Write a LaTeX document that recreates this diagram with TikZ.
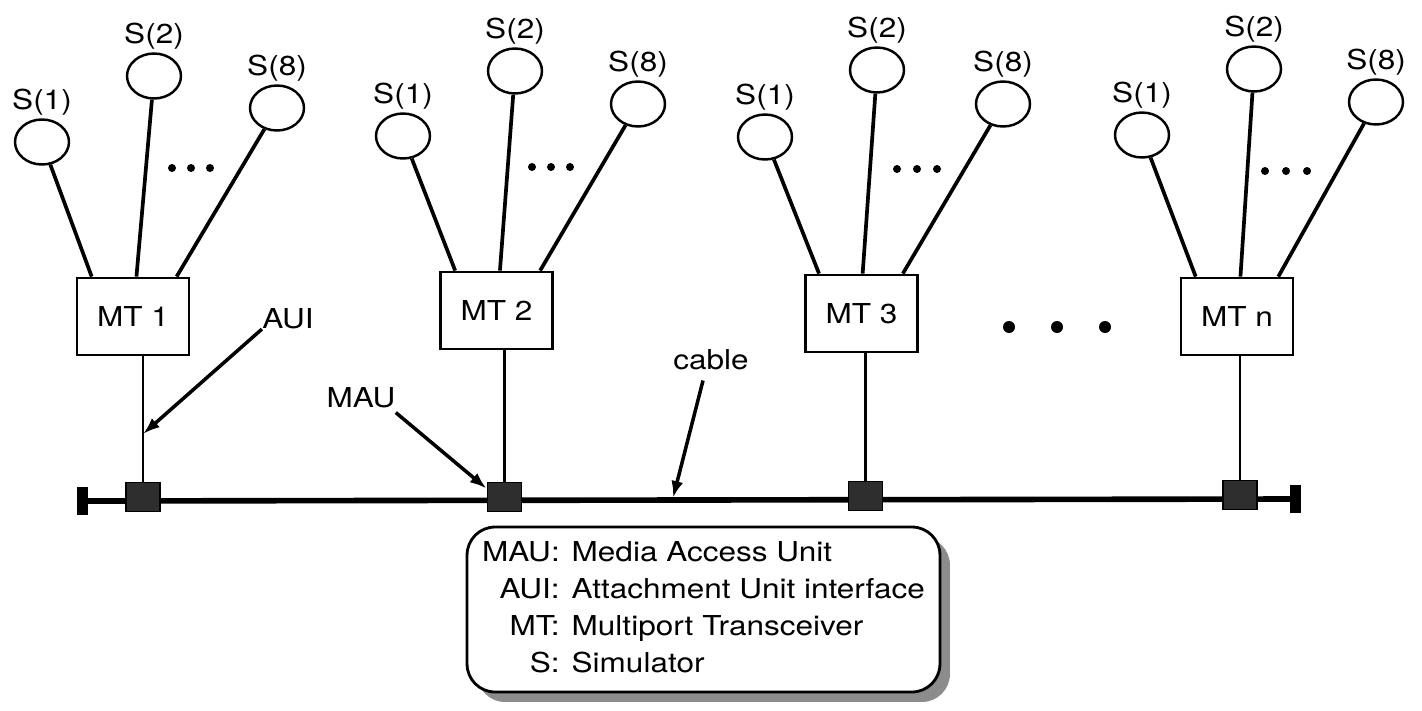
\documentclass[tikz,border=0pt]{standalone}
\usepackage{fontspec}
\setmainfont{TeX Gyre Heros}[FakeStretch=1.15]
\usetikzlibrary{
    arrows.meta,
    calc,
    shapes.geometric,
    shadows
}
\tikzset{
    sim/.style={draw, ellipse, line width=1.4pt, minimum width=1.08cm, minimum height=0.9cm, inner sep=0pt},
    mtbox/.style={draw, line width=1.6pt, minimum width=2.24cm, minimum height=1.54cm},
    mau/.style={draw, fill=black!82, line width=1pt, minimum width=0.68cm, minimum height=0.58cm, inner sep=0pt},
    endcap/.style={fill=black, minimum width=0.21cm, minimum height=0.56cm, inner sep=0pt},
    link/.style={line width=2.1pt},
    drop/.style={line width=1.4pt},
    pointer/.style={line width=2pt, -{Latex[length=0.34cm, width=0.24cm]}}
}

\begin{document}
\begin{tikzpicture}[x=0.02cm, y=-0.02cm, font=\fontsize{15.6}{21}\selectfont]
    \useasboundingbox (0,0) rectangle (1422,710);

    % transceivers
    \node[mtbox] (mt1) at (133,316.5) {MT 1};
    \node[mtbox] (mt2) at (496.5,310.5) {MT 2};
    \node[mtbox] (mt3) at (861.5,313.5) {MT 3};
    \node[mtbox] (mtn) at (1237,316.5) {MT n};

    % simulators
    \node[sim, label={[label distance=-2pt]above:S(1)}] (s11) at (42,142) {};
    \node[sim, label={[label distance=-2pt]above:S(2)}] (s12) at (154,76) {};
    \node[sim, label={[label distance=-2pt]above:S(8)}] (s18) at (277,108) {};
    \node[sim, label={[label distance=-2pt]above:S(1)}] (s21) at (403,136) {};
    \node[sim, label={[label distance=-2pt]above:S(2)}] (s22) at (515,71) {};
    \node[sim, label={[label distance=-2pt]above:S(8)}] (s28) at (638,104) {};
    \node[sim, label={[label distance=-2pt]above:S(1)}] (s31) at (765,137) {};
    \node[sim, label={[label distance=-2pt]above:S(2)}] (s32) at (877,70) {};
    \node[sim, label={[label distance=-2pt]above:S(8)}] (s38) at (1003,104) {};
    \node[sim, label={[label distance=-2pt]above:S(1)}] (sn1) at (1142,135) {};
    \node[sim, label={[label distance=-2pt]above:S(2)}] (sn2) at (1254,69) {};
    \node[sim, label={[label distance=-2pt]above:S(8)}] (sn8) at (1376,102) {};

    \draw[link] (s11) -- ($(mt1.north west)!.14!(mt1.north east)$);
    \draw[link] (s12) -- ($(mt1.north west)!.53!(mt1.north east)$);
    \draw[link] (s18) -- ($(mt1.north west)!.88!(mt1.north east)$);
    \draw[link] (s21) -- ($(mt2.north west)!.14!(mt2.north east)$);
    \draw[link] (s22) -- ($(mt2.north west)!.53!(mt2.north east)$);
    \draw[link] (s28) -- ($(mt2.north west)!.88!(mt2.north east)$);
    \draw[link] (s31) -- ($(mt3.north west)!.13!(mt3.north east)$);
    \draw[link] (s32) -- ($(mt3.north west)!.51!(mt3.north east)$);
    \draw[link] (s38) -- ($(mt3.north west)!.86!(mt3.north east)$);
    \draw[link] (sn1) -- ($(mtn.north west)!.14!(mtn.north east)$);
    \draw[link] (sn2) -- ($(mtn.north west)!.53!(mtn.north east)$);
    \draw[link] (sn8) -- ($(mtn.north west)!.86!(mtn.north east)$);

    \fill (172,168) circle (0.08cm) (191,168) circle (0.08cm) (210,168) circle (0.08cm)
          (532,167) circle (0.08cm) (551,167) circle (0.08cm) (570,167) circle (0.08cm)
          (897,169) circle (0.08cm) (917,169) circle (0.08cm) (937,169) circle (0.08cm)
          (1265,171) circle (0.08cm) (1286,171) circle (0.08cm) (1307,171) circle (0.08cm);
    \fill (1009,327) circle (0.12cm) (1057,327) circle (0.12cm) (1105,327) circle (0.12cm);

    % cable and MAUs
    \node[endcap] (capl) at (82.5,501) {};
    \node[endcap] (capr) at (1295.5,499) {};
    \draw[line width=3.2pt] (capl) -- (capr);
    \node[mau] (mau1) at (143,497) {};
    \node[mau] (mau2) at (504.5,497) {};
    \node[mau] (mau3) at (865.5,496) {};
    \node[mau] (mau4) at (1240,495) {};

    \draw[drop] (mt1.south -| mau1) -- (mau1.north);
    \draw[drop] (mt2.south -| mau2) -- (mau2.north);
    \draw[drop] (mt3.south -| mau3) -- (mau3.north);
    \draw[drop] (mtn.south -| mau4) -- (mau4.north);

    % pointers
    \node[inner sep=0pt] (auilab) at (288,318.5) {AUI};
    \coordinate (auitip) at ($(mt1.south -| mau1)!.62!(mau1.north)$);
    \draw[pointer] (auilab.south west) -- (auitip);
    \node[inner sep=0pt] (maulab) at (361,398) {MAU};
    \draw[pointer] ([yshift=-0.08cm]maulab.south east) -- (mau2.155);
    \node[inner sep=0pt] (cablelab) at (711,360) {cable};
    \coordinate (cabletip) at (673,498);
    \draw[pointer] ([xshift=-0.16cm, yshift=-0.2cm]cablelab.south) -- (cabletip);

    % legend
    \node[draw, line width=1.6pt, rounded corners=0.56cm, fill=white,
          minimum width=9.46cm, minimum height=3.3cm,
          drop shadow={shadow xshift=0.2cm, shadow yshift=-0.2cm, fill=black!45, opacity=1}]
          (legend) at (703.5,609.5)
          {\begin{tabular}{@{}r@{\hspace{0.24cm}}l@{}}
           MAU: & Media Access Unit\\
           AUI: & Attachment Unit interface\\
           MT: & Multiport Transceiver\\
           S: & Simulator
           \end{tabular}};
\end{tikzpicture}
\end{document}
